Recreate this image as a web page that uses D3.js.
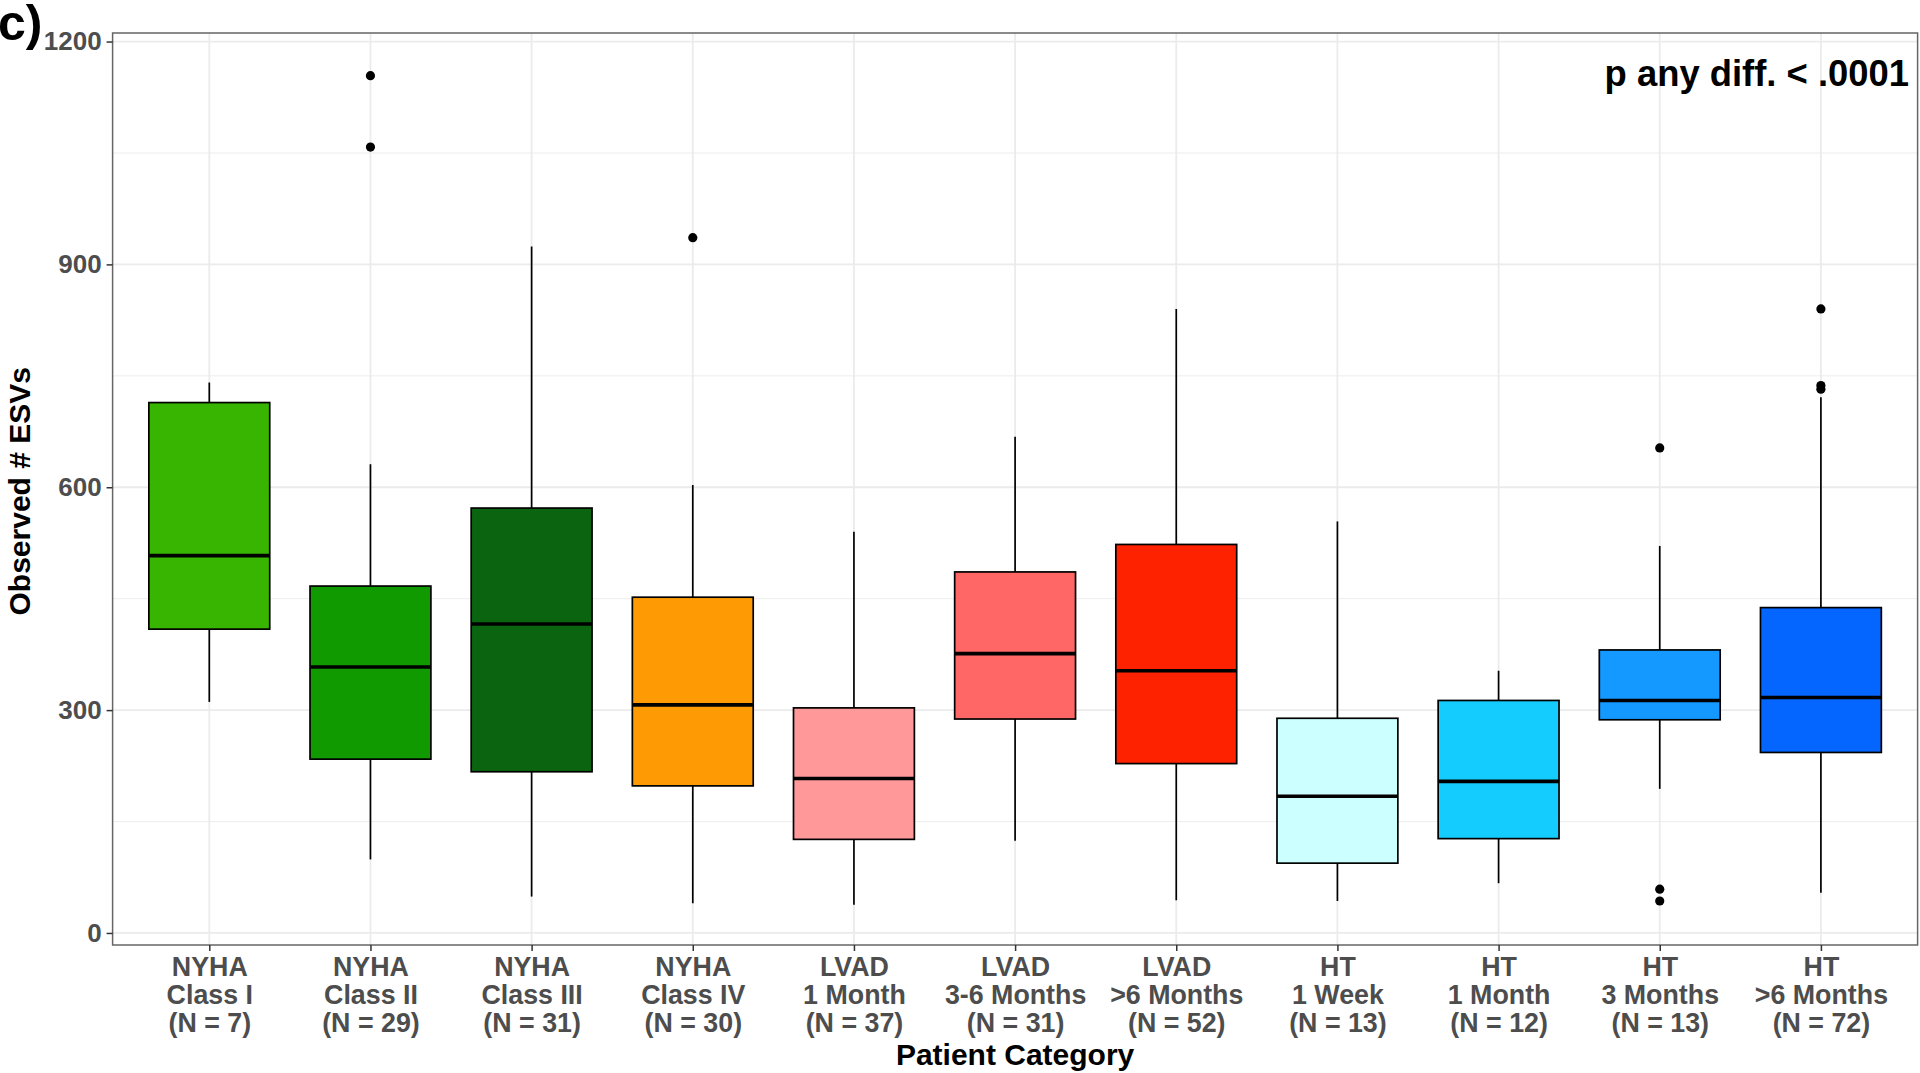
<!DOCTYPE html>
<html>
<head>
<meta charset="utf-8">
<script src="https://cdn.jsdelivr.net/npm/d3@7"></script>
<style>
  html, body { margin: 0; padding: 0; background: #fff; }
  svg { display: block; }
  text { font-family: "Liberation Sans", Arial, sans-serif; font-weight: bold; }
</style>
</head>
<body>
<svg id="chart" width="1920" height="1073"></svg>
<script>
// ---- data ----
const categories = [
  ["NYHA", "Class I", "(N = 7)"],
  ["NYHA", "Class II", "(N = 29)"],
  ["NYHA", "Class III", "(N = 31)"],
  ["NYHA", "Class IV", "(N = 30)"],
  ["LVAD", "1 Month", "(N = 37)"],
  ["LVAD", "3-6 Months", "(N = 31)"],
  ["LVAD", ">6 Months", "(N = 52)"],
  ["HT", "1 Week", "(N = 13)"],
  ["HT", "1 Month", "(N = 12)"],
  ["HT", "3 Months", "(N = 13)"],
  ["HT", ">6 Months", "(N = 72)"]
];
const whiskerLow  = [311, 99, 49, 40, 38, 124, 44, 43, 67, 194, 54];
const q1          = [409, 234, 217, 198, 126, 288, 228, 94, 127, 287, 243];
const median      = [508, 358, 416, 307, 208, 376, 353, 184, 204, 313, 317];
const q3          = [714, 467, 572, 452, 303, 486, 523, 289, 313, 381, 438];
const whiskerHigh = [741, 631, 924, 603, 540, 668, 840, 554, 353, 521, 721];
const outliers    = [[], [1154, 1058], [], [936], [], [], [], [], [], [653, 59, 43], [840, 737, 732]];
const fills = ["#38B500", "#109A00", "#0A6410", "#FD9A04", "#FF9999", "#FF6666",
               "#FF2200", "#CCFFFF", "#15CCFF", "#1399FF", "#0566FF"];
const yTicks = [0, 300, 600, 900, 1200];
const yMinorTicks = [150, 450, 750, 1050];

// ---- layout ----
const panel = { left: 112.6, right: 1917.6, top: 33, bottom: 945 };
const svg = d3.select("#chart");

const keys = categories.map((c, i) => i);
const x = d3.scalePoint().domain(keys).range([panel.left, panel.right]).padding(0.6);
const boxW = x.step() * 0.75;
const y = d3.scaleLinear().domain([-16.2, 1211.5]).range([panel.bottom, panel.top]);

// panel background
svg.append("rect").attr("x", panel.left).attr("y", panel.top)
  .attr("width", panel.right - panel.left).attr("height", panel.bottom - panel.top)
  .attr("fill", "#fff");

// grid
const grid = svg.append("g");
grid.selectAll(".ymin").data(yMinorTicks).enter().append("line")
  .attr("x1", panel.left).attr("x2", panel.right)
  .attr("y1", d => y(d)).attr("y2", d => y(d))
  .attr("stroke", "#EBEBEB").attr("stroke-width", 0.9);
grid.selectAll(".ymaj").data(yTicks).enter().append("line")
  .attr("x1", panel.left).attr("x2", panel.right)
  .attr("y1", d => y(d)).attr("y2", d => y(d))
  .attr("stroke", "#EBEBEB").attr("stroke-width", 1.8);
grid.selectAll(".xmaj").data(keys).enter().append("line")
  .attr("x1", d => x(d)).attr("x2", d => x(d))
  .attr("y1", panel.top).attr("y2", panel.bottom)
  .attr("stroke", "#EBEBEB").attr("stroke-width", 1.8);

// boxes
const g = svg.append("g");
keys.forEach(i => {
  const cx = x(i);
  // whiskers
  g.append("line").attr("x1", cx).attr("x2", cx)
    .attr("y1", y(whiskerHigh[i])).attr("y2", y(q3[i]))
    .attr("stroke", "#000").attr("stroke-width", 1.7);
  g.append("line").attr("x1", cx).attr("x2", cx)
    .attr("y1", y(q1[i])).attr("y2", y(whiskerLow[i]))
    .attr("stroke", "#000").attr("stroke-width", 1.7);
  // box
  g.append("rect").attr("x", cx - boxW / 2).attr("y", y(q3[i]))
    .attr("width", boxW).attr("height", y(q1[i]) - y(q3[i]))
    .attr("fill", fills[i]).attr("stroke", "#000").attr("stroke-width", 1.7);
  // median
  g.append("line").attr("x1", cx - boxW / 2).attr("x2", cx + boxW / 2)
    .attr("y1", y(median[i])).attr("y2", y(median[i]))
    .attr("stroke", "#000").attr("stroke-width", 3.6);
  // outliers
  g.selectAll(null).data(outliers[i]).enter().append("circle")
    .attr("cx", cx).attr("cy", d => y(d)).attr("r", 4.6).attr("fill", "#000");
});

// panel border
svg.append("rect").attr("x", panel.left).attr("y", panel.top)
  .attr("width", panel.right - panel.left).attr("height", panel.bottom - panel.top)
  .attr("fill", "none").attr("stroke", "#666").attr("stroke-width", 1.5);

// y axis
const yAxis = svg.append("g").attr("transform", `translate(${panel.left},0)`)
  .call(d3.axisLeft(y).tickValues(yTicks).tickSize(6).tickPadding(5).tickFormat(d3.format("d")));
yAxis.select(".domain").remove();
yAxis.selectAll(".tick line").attr("stroke", "#333").attr("stroke-width", 1.5);
yAxis.selectAll(".tick text").attr("fill", "#4D4D4D")
  .style("font-size", "26px").style("font-family", "'Liberation Sans', Arial, sans-serif")
  .style("font-weight", "bold");

// x axis
const xAxis = svg.append("g").attr("transform", `translate(0,${panel.bottom})`)
  .call(d3.axisBottom(x).tickSize(6).tickFormat(""));
xAxis.select(".domain").remove();
xAxis.selectAll(".tick line").attr("stroke", "#333").attr("stroke-width", 1.5);
xAxis.selectAll(".tick").each(function(d) {
  const t = d3.select(this).append("text")
    .attr("text-anchor", "middle").attr("fill", "#4D4D4D")
    .style("font-size", "26.8px");
  categories[d].forEach((line, j) => {
    t.append("tspan").attr("x", 0).attr("y", 31 + j * 28.2).text(line);
  });
});

// axis titles
svg.append("text").attr("x", (panel.left + panel.right) / 2).attr("y", 1065)
  .attr("text-anchor", "middle").attr("fill", "#000").style("font-size", "30px")
  .text("Patient Category");
svg.append("text").attr("transform", `translate(30,${(y(0) + y(1200)) / 2 + 4}) rotate(-90)`)
  .attr("text-anchor", "middle").attr("fill", "#000").style("font-size", "30px")
  .text("Observed # ESVs");

// annotation
svg.append("text").attr("x", 1909).attr("y", 86)
  .attr("text-anchor", "end").attr("fill", "#000").style("font-size", "36.4px")
  .text("p any diff. < .0001");

// panel tag
svg.append("text").attr("x", -2).attr("y", 40)
  .attr("fill", "#000").style("font-size", "50px")
  .text("c)");
</script>
</body>
</html>
